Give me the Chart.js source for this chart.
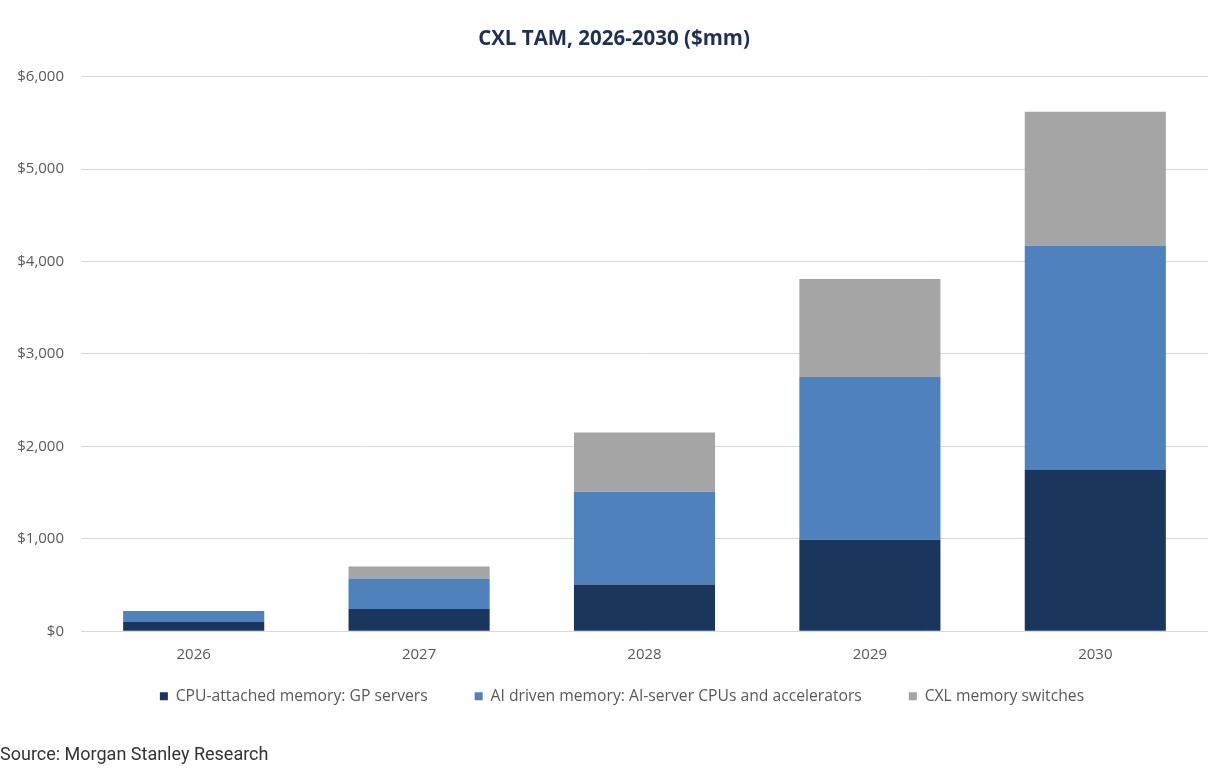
<!DOCTYPE html>
<html>
<head>
<meta charset="utf-8">
<script src="https://cdn.jsdelivr.net/npm/chart.js@4.4.1/dist/chart.umd.min.js"></script>
<style>
    body { margin: 0; background: #fff; }
    .wrap { position: relative; width: 1208px; height: 774px; }
    .source {
        position: absolute;
        left: 0;
        top: 743px;
        font: 18px Roboto, sans-serif;
        color: #333;
    }
</style>
</head>
<body>
<div class="wrap">
    <canvas id="chart-cxl-tam" width="1208" height="774"></canvas>
    <div class="source">Source: Morgan Stanley Research</div>
</div>
<script>
// data ($mm)
const years = ["2026", "2027", "2028", "2029", "2030"];
const cpuAttached = [100, 240, 505, 990, 1750];
const aiDriven = [120, 330, 1005, 1760, 2420];
const cxlSwitches = [0, 130, 640, 1060, 1450];
const yTicks = [0, 1000, 2000, 3000, 4000, 5000, 6000];

const labelColor = "#595959";
const baseFont = "'Open Sans', sans-serif";

// nudge title + legend like the Excel original (legend sits close to the year labels)
const nudgeBoxes = {
    id: "nudgeBoxes",
    afterLayout(chart) {
        const lg = chart.legend;
        if (lg) {
            lg.top -= 36;
            lg.bottom -= 36;
            lg.left += 18;
            lg.right += 18;
        }
        const tt = chart.titleBlock;
        if (tt) {
            tt.left += 10;
            tt.right += 10;
        }
    },
};

new Chart(document.getElementById("chart-cxl-tam"), {
    type: "bar",
    data: {
        labels: years,
        datasets: [
            {
                label: "CPU-attached memory: GP servers",
                data: cpuAttached,
                backgroundColor: "#1b365d",
            },
            {
                label: "AI driven memory: AI-server CPUs and accelerators",
                data: aiDriven,
                backgroundColor: "#4f81bd",
            },
            {
                label: "CXL memory switches",
                data: cxlSwitches,
                backgroundColor: "#a5a5a5",
            },
        ],
    },
    options: {
        responsive: false,
        animation: false,
        datasets: {
            bar: { categoryPercentage: 0.626, barPercentage: 1 },
        },
        layout: { padding: { left: 0, right: 0, top: 0, bottom: 24 } },
        plugins: {
            title: {
                display: true,
                text: "CXL TAM, 2026-2030 ($mm)",
                color: "#1f3050",
                font: { family: baseFont, size: 20.5, weight: "bold" },
                padding: { top: 27, bottom: 25 },
            },
            legend: {
                position: "bottom",
                labels: {
                    color: labelColor,
                    boxWidth: 8,
                    boxHeight: 8,
                    padding: 47,
                    font: { family: baseFont, size: 15.7 },
                },
            },
            tooltip: { enabled: false },
        },
        scales: {
            x: {
                stacked: true,
                grid: { display: false, drawTicks: false },
                border: { display: false },
                ticks: {
                    color: labelColor,
                    padding: 14,
                    font: { family: baseFont, size: 15 },
                },
            },
            y: {
                stacked: true,
                min: 0,
                max: 6000,
                afterBuildTicks: (scale) => {
                    scale.ticks = yTicks.map((v) => ({ value: v }));
                },
                ticks: {
                    color: labelColor,
                    padding: 17,
                    font: { family: baseFont, size: 15 },
                    callback: (v) => "$" + v.toLocaleString("en-US"),
                },
                grid: { color: "#d9d9d9", drawTicks: false },
                border: { display: false },
                afterFit: (scale) => {
                    scale.width = 81;
                },
            },
        },
    },
    plugins: [nudgeBoxes],
});
</script>
</body>
</html>
